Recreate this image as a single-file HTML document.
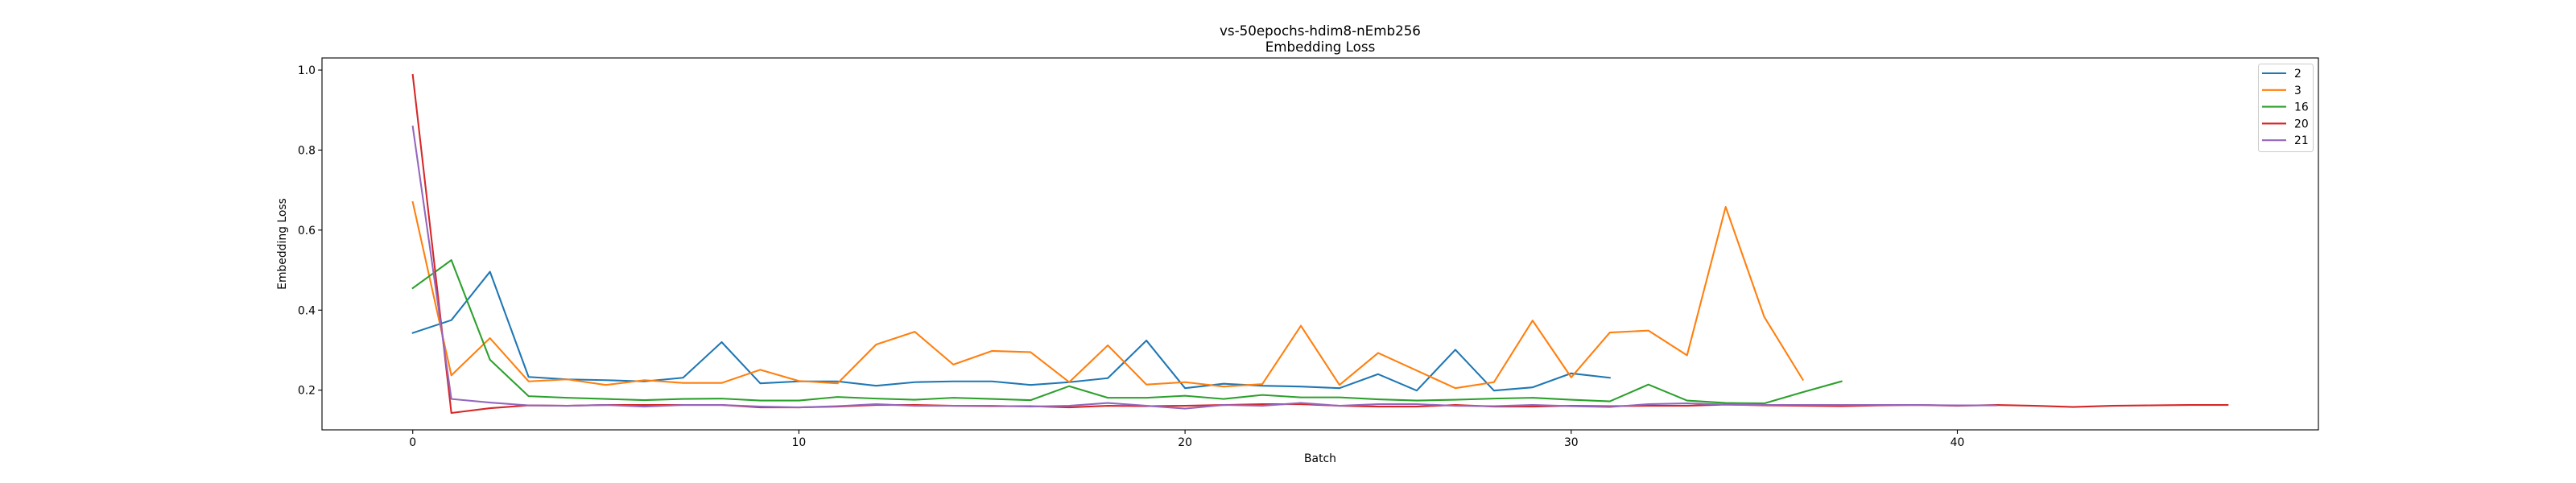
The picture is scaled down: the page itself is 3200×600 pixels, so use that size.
<!DOCTYPE html>
<html><head><meta charset="utf-8"><style>
html,body{margin:0;padding:0;background:#fff;}
svg{display:block;font-family:"DejaVu Sans","Liberation Sans",sans-serif;}
</style></head><body>
<svg id="chart" width="3200" height="600" viewBox="0 0 3200 600" xmlns="http://www.w3.org/2000/svg">
<rect width="3200" height="600" fill="#fff"/>
<text x="1640" y="44" font-size="16.7" text-anchor="middle">vs-50epochs-hdim8-nEmb256</text>
<text x="1640" y="64" font-size="16.7" text-anchor="middle">Embedding Loss</text>
<g id="plot"></g>
<text x="1640" y="574" font-size="13.9" text-anchor="middle">Batch</text>
<text x="0" y="0" font-size="13.9" text-anchor="middle" transform="translate(355,303) rotate(-90)">Embedding Loss</text>
</svg>
<script>
const seriesNames = ["2","3","16","20","21"];
const seriesColors = ["#1f77b4","#ff7f0e","#2ca02c","#d62728","#9467bd"];
const s2 = [0.343,0.375,0.496,0.233,0.227,0.225,0.222,0.231,0.320,0.217,0.222,0.222,0.211,0.220,0.222,0.222,0.213,0.220,0.230,0.324,0.205,0.216,0.211,0.209,0.205,0.240,0.199,0.301,0.199,0.207,0.242,0.231];
const s3 = [0.670,0.237,0.330,0.222,0.227,0.213,0.225,0.218,0.218,0.251,0.223,0.217,0.314,0.346,0.264,0.298,0.295,0.220,0.312,0.214,0.220,0.209,0.215,0.361,0.213,0.293,0.249,0.205,0.220,0.374,0.232,0.344,0.349,0.287,0.658,0.383,0.226];
const s16 = [0.455,0.525,0.276,0.185,0.181,0.178,0.175,0.178,0.179,0.174,0.174,0.183,0.179,0.176,0.181,0.178,0.175,0.210,0.181,0.181,0.186,0.178,0.188,0.182,0.182,0.177,0.174,0.176,0.179,0.181,0.176,0.172,0.214,0.174,0.168,0.167,0.195,0.222];
const s20 = [0.988,0.143,0.155,0.162,0.161,0.163,0.163,0.163,0.163,0.157,0.157,0.159,0.163,0.163,0.161,0.160,0.160,0.157,0.161,0.160,0.161,0.163,0.165,0.165,0.161,0.159,0.159,0.163,0.159,0.159,0.161,0.160,0.161,0.161,0.164,0.162,0.161,0.160,0.162,0.163,0.161,0.163,0.161,0.158,0.161,0.162,0.163,0.163];
const s21 = [0.859,0.178,0.169,0.162,0.161,0.163,0.159,0.163,0.163,0.159,0.157,0.160,0.165,0.161,0.161,0.161,0.159,0.161,0.168,0.161,0.154,0.163,0.161,0.168,0.161,0.165,0.165,0.161,0.160,0.163,0.160,0.158,0.165,0.167,0.164,0.163,0.163,0.163,0.163,0.163,0.162,0.162];
const xTicks = [0,10,20,30,40];
const yTicks = [0.2,0.4,0.6,0.8,1.0];
const yTickLabels = ["0.2","0.4","0.6","0.8","1.0"];

const NS = "http://www.w3.org/2000/svg";
const L = 400, R = 2880, T = 72, B = 534;
const allSeries = [s2,s3,s16,s20,s21];
let xmaxData = 0, ymin = Infinity, ymax = -Infinity;
allSeries.forEach(s => { xmaxData = Math.max(xmaxData, s.length - 1); s.forEach(v => { ymin = Math.min(ymin, v); ymax = Math.max(ymax, v); }); });
const xPad = xmaxData * 0.05, yPad = (ymax - ymin) * 0.05;
const x0 = -xPad, x1 = xmaxData + xPad, y0 = ymin - yPad, y1 = ymax + yPad;
function xScale(v){ return L + (v - x0) / (x1 - x0) * (R - L); }
function yScale(v){ return B - (v - y0) / (y1 - y0) * (B - T); }
const plot = document.getElementById('plot');
function mk(tag, attrs){ const e = document.createElementNS(NS, tag); for (const k in attrs) e.setAttribute(k, attrs[k]); return e; }

allSeries.forEach((s, i) => {
  const pts = s.map((v, j) => xScale(j).toFixed(2) + ',' + yScale(v).toFixed(2)).join(' ');
  const pl = mk('polyline', {points: pts, fill: 'none', stroke: seriesColors[i], 'stroke-width': 2.08, 'stroke-linejoin': 'round', 'stroke-linecap': 'square'});
  
  
  plot.appendChild(pl);
});

xTicks.forEach(t => {
  const x = xScale(t);
  const tk = mk('line', {x1: x, x2: x, y1: B, y2: B + 4.9, stroke: '#000', 'stroke-width': 1.1});
  
  
  plot.appendChild(tk);
  const lb = mk('text', {x: x, y: B + 20, 'font-size': 13.9, 'text-anchor': 'middle'});
  lb.textContent = String(t);
  
  
  plot.appendChild(lb);
});
yTicks.forEach((t, i) => {
  const y = yScale(t);
  const tk = mk('line', {x1: L - 4.9, x2: L, y1: y, y2: y, stroke: '#000', 'stroke-width': 1.1});
  
  
  plot.appendChild(tk);
  const lb = mk('text', {x: L - 8, y: y + 5, 'font-size': 13.9, 'text-anchor': 'end'});
  lb.textContent = yTickLabels[i];
  
  
  plot.appendChild(lb);
});

const frame = mk('rect', {x: L, y: T, width: R - L, height: B - T, fill: 'none', stroke: '#000', 'stroke-width': 1.1});


plot.appendChild(frame);

const legend = mk('g', {});


const lbox = mk('rect', {x: 2805.5, y: 79.5, width: 68, height: 109, rx: 3, fill: '#fff', 'fill-opacity': 0.8, stroke: '#ccc', 'stroke-width': 1});


legend.appendChild(lbox);
seriesNames.forEach((n, i) => {
  const y = 91 + i * 20.8;
  const ln = mk('line', {x1: 2810, x2: 2840, y1: y, y2: y, stroke: seriesColors[i], 'stroke-width': 2.08});
  
  
  legend.appendChild(ln);
  const tx = mk('text', {x: 2850, y: y + 5, 'font-size': 13.9});
  tx.textContent = n;
  
  
  legend.appendChild(tx);
});
plot.appendChild(legend);
</script>
</body></html>
